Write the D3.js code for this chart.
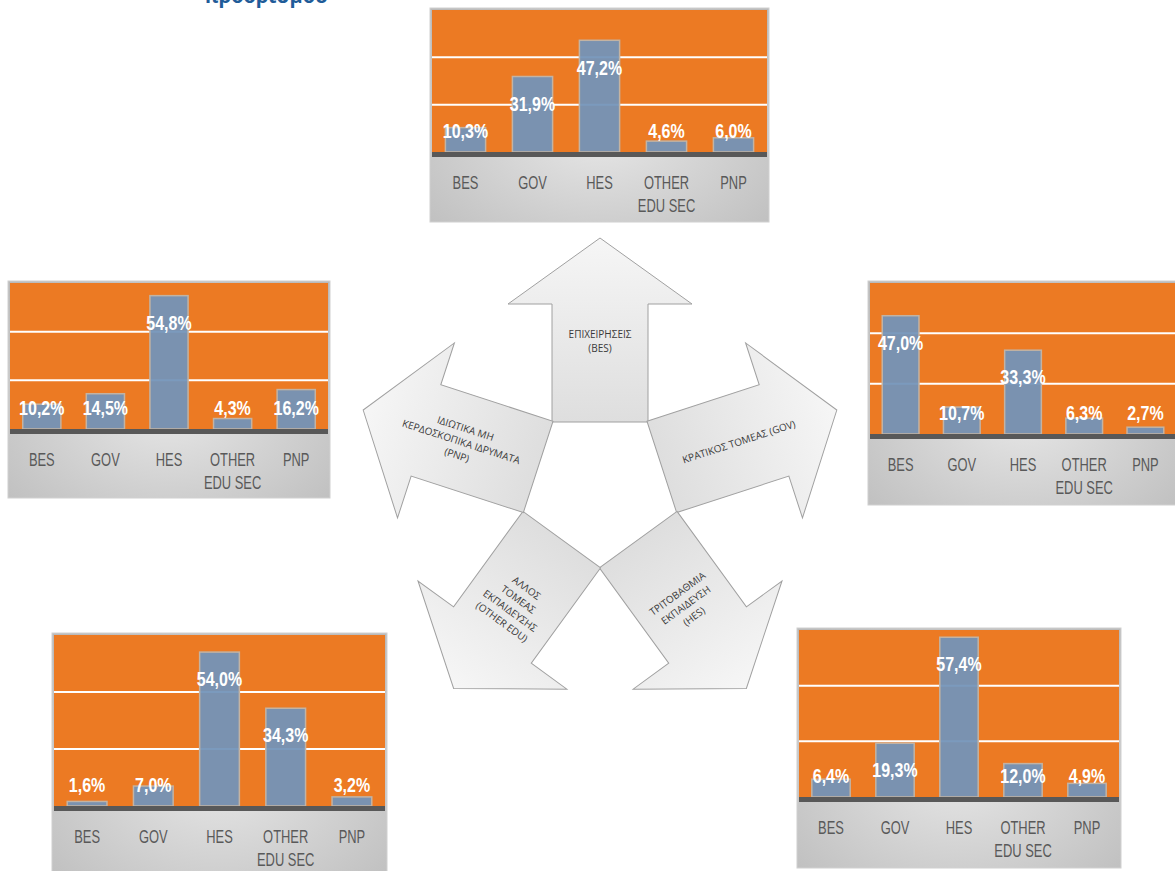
<!DOCTYPE html>
<html>
<head>
<meta charset="utf-8">
<script src="https://cdn.jsdelivr.net/npm/d3@7"></script>
<style>
	body { margin: 0; background: #fff; }
	svg { display: block; }
	.narrow { font-family: "Liberation Sans", Arial, sans-serif; }
	.arrow-text { font-family: "Open Sans", "Liberation Sans", sans-serif; font-size: 10px; fill: #3a3a3a; }
</style>
</head>
<body>
<svg id="chart" width="1175" height="871"></svg>
<script>
// categories on every small chart
var categories = ["BES", "GOV", "HES", "OTHER EDU SEC", "PNP"];
var tickLabels = [["BES"], ["GOV"], ["HES"], ["OTHER", "EDU SEC"], ["PNP"]];
var yTicks = [0, 20, 40, 60];

// shares (%) by sector, one array per chart
var valuesBES = [10.3, 31.9, 47.2, 4.6, 6.0];
var valuesGOV = [47.0, 10.7, 33.3, 6.3, 2.7];
var valuesHES = [6.4, 19.3, 57.4, 12.0, 4.9];
var valuesOTHER = [1.6, 7.0, 54.0, 34.3, 3.2];
var valuesPNP = [10.2, 14.5, 54.8, 4.3, 16.2];

// arrows, clockwise from the top
var sectors = ["BES", "GOV", "HES", "OTHER", "PNP"];
var arrowLabels = [
	["ΕΠΙΧΕΙΡΗΣΕΙΣ", "(BES)"],
	["ΚΡΑΤΙΚΟΣ ΤΟΜΕΑΣ (GOV)"],
	["ΤΡΙΤΟΒΑΘΜΙΑ", "ΕΚΠΑΙΔΕΥΣΗ", "(HES)"],
	["ΑΛΛΟΣ", "ΤΟΜΕΑΣ", "ΕΚΠΑΙΔΕΥΣΗΣ", "(OTHER EDU)"],
	["ΙΔΙΩΤΙΚΑ ΜΗ", "ΚΕΡΔΟΣΚΟΠΙΚΑ ΙΔΡΥΜΑΤΑ", "(PNP)"]
];

var titleText = "προορισμού";

var svg = d3.select("#chart");
var defs = svg.append("defs");

var grayGrad = defs.append("radialGradient").attr("id", "panel-gray")
	.attr("cx", "50%").attr("cy", "60%").attr("r", "75%");
grayGrad.append("stop").attr("offset", "0%").attr("stop-color", "#e6e6e6");
grayGrad.append("stop").attr("offset", "100%").attr("stop-color", "#bababa");

var arrowGrad = defs.append("linearGradient").attr("id", "arrow-fill")
	.attr("x1", 0).attr("y1", 0).attr("x2", 0).attr("y2", 1);
arrowGrad.append("stop").attr("offset", "0%").attr("stop-color", "#f6f6f6");
arrowGrad.append("stop").attr("offset", "100%").attr("stop-color", "#dedede");

// heading of the page above, clipped by the crop
svg.append("text")
	.attr("x", 204).attr("y", 3)
	.attr("font-family", "Open Sans, sans-serif")
	.attr("font-weight", "bold")
	.attr("font-size", 20)
	.attr("fill", "#1f5c99")
	.text(titleText);

var panels = [
	{values: valuesBES, box: {x: 430, y: 8, w: 339, h: 214}, plotH: 142},
	{values: valuesGOV, box: {x: 868, y: 281, w: 310, h: 224}, plotH: 151},
	{values: valuesHES, box: {x: 797, y: 628, w: 324, h: 240}, plotH: 167},
	{values: valuesOTHER, box: {x: 52, y: 633, w: 335, h: 242}, plotH: 171},
	{values: valuesPNP, box: {x: 8, y: 281, w: 322, h: 217}, plotH: 146}
];

panels.forEach(function (p) {
	DrawPanel(p);
});

function DrawPanel(p) {
	var b = p.box;
	var inset = 2;
	var x0 = b.x + inset, x1 = b.x + b.w - inset;
	var top = b.y + inset;
	var baseline = top + p.plotH;

	var g = svg.append("g");

	g.append("rect")
		.attr("x", b.x).attr("y", b.y)
		.attr("width", b.w).attr("height", b.h)
		.attr("fill", "url(#panel-gray)")
		.attr("stroke", "#d0d0d0")
		.attr("stroke-width", 1);

	g.append("rect")
		.attr("x", x0).attr("y", top)
		.attr("width", x1 - x0).attr("height", p.plotH)
		.attr("fill", "#ec7a23");

	var x = d3.scaleBand()
		.domain(categories)
		.range([x0, x1])
		.paddingInner(0.4)
		.paddingOuter(0.2);

	var y = d3.scaleLinear()
		.domain([yTicks[0], yTicks[yTicks.length - 1]])
		.range([baseline, top]);

	g.selectAll("line.grid")
		.data(yTicks.filter(function (t) { return t > yTicks[0] && t < yTicks[yTicks.length - 1]; }))
		.enter().append("line")
		.attr("class", "grid")
		.attr("x1", x0).attr("x2", x1)
		.attr("y1", function (d) { return y(d); })
		.attr("y2", function (d) { return y(d); })
		.attr("stroke", "#ffffff")
		.attr("stroke-width", 2);

	var data = categories.map(function (c, i) { return {cat: c, v: p.values[i]}; });

	g.selectAll("rect.bar")
		.data(data)
		.enter().append("rect")
		.attr("class", "bar")
		.attr("x", function (d) { return x(d.cat); })
		.attr("y", function (d) { return y(d.v); })
		.attr("width", x.bandwidth())
		.attr("height", function (d) { return baseline - y(d.v); })
		.attr("fill", "#7394b9")
		.attr("fill-opacity", 0.94)
		.attr("stroke", "#c3b3a3")
		.attr("stroke-width", 1.5);

	// dark axis band
	g.append("rect")
		.attr("x", x0).attr("y", baseline)
		.attr("width", x1 - x0).attr("height", 5)
		.attr("fill", "#585858");

	g.selectAll("text.val")
		.data(data)
		.enter().append("text")
		.attr("class", "val narrow")
		.attr("transform", function (d) {
			var tx = x(d.cat) + x.bandwidth() / 2;
			var ty = Math.min(y(d.v) + 27, baseline - 21);
			return "translate(" + tx + "," + ty + ") scale(0.8,1)";
		})
		.attr("dy", "0.36em")
		.attr("text-anchor", "middle")
		.attr("font-weight", "bold")
		.attr("font-size", 20)
		.attr("fill", "#ffffff")
		.text(function (d) { return d.v.toFixed(1).replace(".", ",") + "%"; });

	var axis = g.append("g")
		.attr("transform", "translate(0," + (baseline + 5) + ")")
		.call(d3.axisBottom(x).tickSize(0).tickPadding(0));
	axis.select(".domain").remove();
	axis.selectAll(".tick text").remove();
	axis.selectAll(".tick").each(function (d, i) {
		var t = d3.select(this).append("text")
			.attr("class", "narrow")
			.attr("transform", "scale(0.68,1)")
			.attr("text-anchor", "middle")
			.attr("font-size", 19)
			.attr("fill", "#595959");
		tickLabels[i].forEach(function (line, j) {
			t.append("tspan")
				.attr("x", 0)
				.attr("y", 25 + j * 23)
				.attr("dy", "0.36em")
				.text(line);
		});
	});
}

// arrows around a pentagon
var centre = {x: 600, y: 487};
var apothem = 65, shaftHalf = 48, shaftEnd = 183, headHalf = 92, tipDist = 249;
var textDist = 146, lineGap = 14;

var arrowPath = d3.line()([
	[-shaftHalf, -apothem],
	[-shaftHalf, -shaftEnd],
	[-headHalf, -shaftEnd],
	[0, -tipDist],
	[headHalf, -shaftEnd],
	[shaftHalf, -shaftEnd],
	[shaftHalf, -apothem]
]) + "Z";

function NormAngle(a) {
	return (((a + 90) % 180) + 180) % 180 - 90;
}

var arrowsG = svg.append("g").attr("id", "arrows-g");
sectors.forEach(function (s, i) {
	var dir = -90 + 72 * i;
	arrowsG.append("path")
		.attr("d", arrowPath)
		.attr("transform", "translate(" + centre.x + "," + centre.y + ") rotate(" + (dir + 90) + ")")
		.attr("fill", "url(#arrow-fill)")
		.attr("stroke", "#a0a0a0")
		.attr("stroke-width", 1);
});

sectors.forEach(function (s, i) {
	var dir = -90 + 72 * i;
	var rad = dir * Math.PI / 180;
	var along = Math.abs(Math.cos(rad)) > 0.9;
	var rot = NormAngle(along ? dir : dir + 90);
	var tx = centre.x + textDist * Math.cos(rad);
	var ty = centre.y + textDist * Math.sin(rad);
	var lines = arrowLabels[i];
	var t = arrowsG.append("text")
		.attr("class", "arrow-text")
		.attr("text-anchor", "middle")
		.attr("transform", "translate(" + tx + "," + ty + ") rotate(" + rot + ")");
	lines.forEach(function (line, j) {
		t.append("tspan")
			.attr("x", 0)
			.attr("y", (j - (lines.length - 1) / 2) * lineGap)
			.attr("dy", "0.35em")
			.text(line);
	});
});
</script>
</body>
</html>
